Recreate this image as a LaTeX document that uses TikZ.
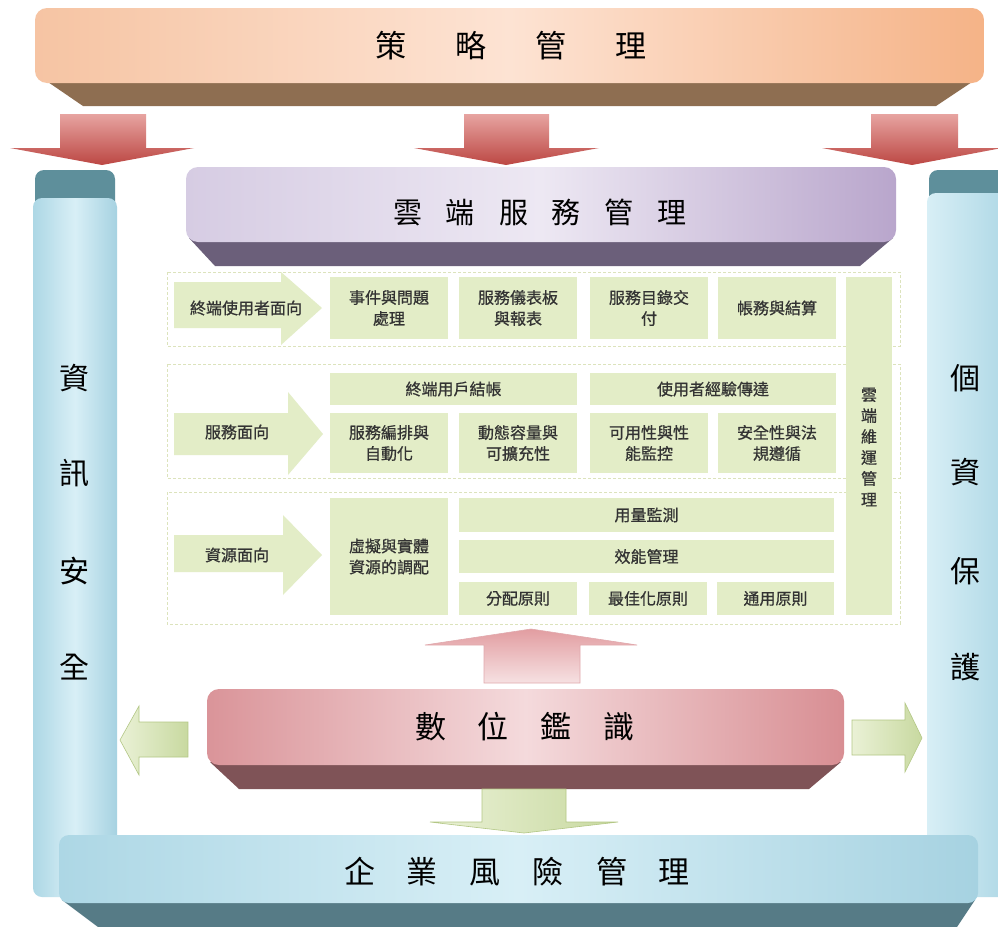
\documentclass[tikz,border=0pt]{standalone}
\usepackage{fontspec}
\newfontfamily\cjk{Noto Sans CJK TC}
\newfontfamily\cjkb[FakeBold=0.8]{Noto Sans CJK TC}
\definecolor{boxg}{HTML}{E3EDC7}
\definecolor{txtg}{HTML}{333333}
\definecolor{frameg}{HTML}{DCE3BC}
\definecolor{orL}{HTML}{F6C4A3}
\definecolor{orM}{HTML}{FDE3D3}
\definecolor{orR}{HTML}{F5B387}
\definecolor{orB}{HTML}{8E6E51}
\definecolor{redT}{HTML}{E7A4A1}
\definecolor{redB}{HTML}{BC4743}
\definecolor{puL}{HTML}{D6CCE3}
\definecolor{puM}{HTML}{EDE8F3}
\definecolor{puR}{HTML}{B9A6CC}
\definecolor{puB}{HTML}{6B5F7A}
\definecolor{piL}{HTML}{DA9499}
\definecolor{piM}{HTML}{F4DADC}
\definecolor{piR}{HTML}{D88E93}
\definecolor{piB}{HTML}{7F5357}
\definecolor{blL}{HTML}{ADD7E5}
\definecolor{blM}{HTML}{D8EFF6}
\definecolor{blR}{HTML}{A6D2E1}
\definecolor{blB}{HTML}{567B86}
\definecolor{blC}{HTML}{5E8F9B}
\definecolor{grL}{HTML}{EAF1D6}
\definecolor{grR}{HTML}{C8D9A0}
\definecolor{grE}{HTML}{B3C785}
\definecolor{pkT}{HTML}{E29DA1}
\definecolor{pkB}{HTML}{F6E1E2}
\begin{document}
\begin{tikzpicture}[x=1pt,y=-1pt,
  box/.style={fill=boxg, draw=none, inner sep=0pt, text=txtg, align=center,
    font=\cjkb\fontsize{16}{21}\selectfont},
  rowtext/.style={text=txtg, inner sep=0pt, font=\cjkb\fontsize{16}{21}\selectfont},
  bigtext/.style={text=black, inner sep=0pt, font=\cjk\fontsize{31}{36}\selectfont},
  midtext/.style={text=black, inner sep=0pt, font=\cjk\fontsize{29}{34}\selectfont},
  pilltext/.style={text=black, inner sep=0pt, font=\cjk\fontsize{30}{34}\selectfont},
  rowframe/.style={draw=frameg, line width=1pt, dash pattern=on 3pt off 2pt},
  greenarrow/.style={left color=grL, right color=grR, draw=grE, line width=0.6pt},
]
\useasboundingbox (0,0) rectangle (998,926);
\fill[white] (0,0) rectangle (998,926);

% pillars
\fill[blC, rounded corners=9pt] (35,170) rectangle (115,215);
\shade[left color=blL, right color=blR, middle color=blM, rounded corners=9pt] (33,198) rectangle (117,897);
\fill[blC, rounded corners=9pt] (929,170) rectangle (1010,215);
\shade[left color=blM, right color=blL, rounded corners=9pt] (927,193) rectangle (1010,897);

% bottom banner
\fill[blB] (62,900) -- (975,900) -- (955,930) -- (102,930) -- cycle;
\shade[left color=blL, right color=blR, middle color=blM, rounded corners=10pt] (59,835) rectangle (978,903);
\node[bigtext] (erm) at (517,872) {企\hspace{32pt}業\hspace{32pt}風\hspace{32pt}險\hspace{32pt}管\hspace{32pt}理};

% top banner
\fill[orB] (45,80) -- (975,80) -- (936,106) -- (83,106) -- cycle;
\shade[left color=orL, right color=orR, middle color=orM, rounded corners=12pt] (35,8) rectangle (984,83);
\node[bigtext] (strat) at (511,46) {策\hspace{49pt}略\hspace{49pt}管\hspace{49pt}理};

% red down arrows
\shade[top color=redT, bottom color=redB] (60,114) -- (146,114) -- (146,148) -- (194,148) -- (102,165) -- (10,148) -- (60,148) -- cycle;
\shade[top color=redT, bottom color=redB] (464,114) -- (549,114) -- (549,148) -- (599,148) -- (506,165) -- (414,148) -- (464,148) -- cycle;
\shade[top color=redT, bottom color=redB] (871,114) -- (958,114) -- (958,148) -- (1002,148) -- (912,165) -- (822,148) -- (871,148) -- cycle;

% cloud service banner
\fill[puB] (189,238) -- (893,238) -- (860,266) -- (215,266) -- cycle;
\shade[left color=puL, right color=puR, middle color=puM, rounded corners=12pt] (186,167) rectangle (896,242);
\node[midtext] (csm) at (540,212) {雲\hspace{24pt}端\hspace{24pt}服\hspace{24pt}務\hspace{24pt}管\hspace{24pt}理};

% pillar texts
\node[pilltext] (l1) at (74,378) {資};
\node[pilltext] (l2) at (74,473) {訊};
\node[pilltext] (l3) at (74,571) {安};
\node[pilltext] (l4) at (74,667) {全};
\node[pilltext] (r1) at (965,378) {個};
\node[pilltext] (r2) at (965,472) {資};
\node[pilltext] (r3) at (965,571) {保};
\node[pilltext] (r4) at (965,667) {護};

% row frames
\draw[rowframe] (167,272) rectangle (900,346);
\draw[rowframe] (167,364) rectangle (900,478);
\draw[rowframe] (167,492) rectangle (900,624);

% row arrows
\fill[boxg] (174,282) -- (281,282) -- (281,272) -- (322,308) -- (281,345) -- (281,328) -- (174,328) -- cycle;
\node[rowtext] (ra1) at (246,308) {終端使用者面向};
\fill[boxg] (174,413) -- (288,413) -- (288,392) -- (323,434) -- (288,475) -- (288,455) -- (174,455) -- cycle;
\node[rowtext] (ra2) at (237,432) {服務面向};
\fill[boxg] (174,535) -- (283,535) -- (283,515) -- (322,555) -- (283,595) -- (283,572) -- (174,572) -- cycle;
\node[rowtext] (ra3) at (237,555) {資源面向};

% row 1 boxes
\node[box, minimum width=118pt, minimum height=62pt] (b11) at (389,308) {事件與問題\\處理};
\node[box, minimum width=118pt, minimum height=62pt] (b12) at (518,308) {服務儀表板\\與報表};
\node[box, minimum width=118pt, minimum height=62pt] (b13) at (649,308) {服務目錄交\\付};
\node[box, minimum width=118pt, minimum height=62pt] (b14) at (777,308) {帳務與結算};

% row 2 boxes
\node[box, minimum width=247pt, minimum height=32pt] (b21) at (453.5,389) {終端用戶結帳};
\node[box, minimum width=246pt, minimum height=32pt] (b22) at (713,389) {使用者經驗傳達};
\node[box, minimum width=118pt, minimum height=60pt] (b23) at (389,443) {服務編排與\\自動化};
\node[box, minimum width=118pt, minimum height=60pt] (b24) at (518,443) {動態容量與\\可擴充性};
\node[box, minimum width=118pt, minimum height=60pt] (b25) at (649,443) {可用性與性\\能監控};
\node[box, minimum width=118pt, minimum height=60pt] (b26) at (777,443) {安全性與法\\規遵循};

% row 3 boxes
\node[box, minimum width=118pt, minimum height=117pt] (b31) at (389,556.5) {虛擬與實體\\資源的調配};
\node[box, minimum width=375pt, minimum height=34pt] (b32) at (646.5,515) {用量監測};
\node[box, minimum width=375pt, minimum height=33pt] (b33) at (646.5,556.5) {效能管理};
\node[box, minimum width=118pt, minimum height=33pt] (b34) at (518,598.5) {分配原則};
\node[box, minimum width=118pt, minimum height=33pt] (b35) at (648,598.5) {最佳化原則};
\node[box, minimum width=117pt, minimum height=33pt] (b36) at (775.5,598.5) {通用原則};

% right vertical box
\node[box, minimum width=46pt, minimum height=338pt] (ops) at (869,446) {};
\node[text=txtg, inner sep=0pt, align=center, font=\cjkb\fontsize{16}{21}\selectfont] (opst) at (869,447) {雲\\端\\維\\運\\管\\理};

% pink up arrow
\shade[top color=pkT, bottom color=pkB, draw=piL!80, line width=0.6pt] (484,683) -- (484,645) -- (425,645) -- (531,629) -- (637,645) -- (580,645) -- (580,683) -- cycle;

% digital identity banner
\fill[piB] (210,762) -- (841,762) -- (809,789) -- (239,789) -- cycle;
\shade[left color=piL, right color=piR, middle color=piM, rounded corners=12pt] (207,689) rectangle (844,765);
\node[bigtext] (did) at (525,727) {數\hspace{32pt}位\hspace{32pt}鑑\hspace{32pt}識};

% green arrows
\shade[greenarrow] (188,722) -- (139,722) -- (139,706) -- (120,740) -- (139,775) -- (139,757) -- (188,757) -- cycle;
\shade[greenarrow] (852,720) -- (905,720) -- (905,703) -- (922,738) -- (905,772) -- (905,755) -- (852,755) -- cycle;
\shade[greenarrow] (482,789) -- (566,789) -- (566,822) -- (618,822) -- (524,833) -- (430,822) -- (482,822) -- cycle;
\end{tikzpicture}
\end{document}
